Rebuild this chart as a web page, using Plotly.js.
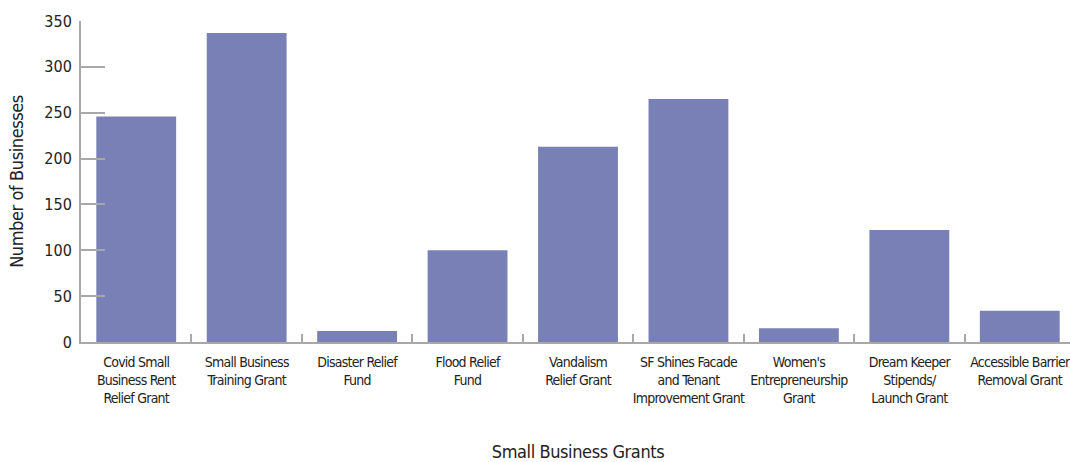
<!DOCTYPE html>
<html>
<head>
<meta charset="utf-8">
<script src="https://cdn.plot.ly/plotly-3.0.1.min.js"></script>
<style>
html,body{margin:0;padding:0;overflow:hidden;background:#fff;}
#chart{width:1080px;height:462px;}
#chart text{font-stretch:condensed !important;}
#chart .xtick text{letter-spacing:-0.75px;}
#chart .g-xtitle text, #chart .g-ytitle text{letter-spacing:-0.4px;}
</style>
</head>
<body>
<div id="chart"></div>
<script>
const categories = [
  "Covid Small<br>Business Rent<br>Relief Grant",
  "Small Business<br>Training Grant",
  "Disaster Relief<br>Fund",
  "Flood Relief<br>Fund",
  "Vandalism<br>Relief Grant",
  "SF Shines Facade<br>and Tenant<br>Improvement Grant",
  "Women's<br>Entrepreneurship<br>Grant",
  "Dream Keeper<br>Stipends/<br>Launch Grant",
  "Accessible Barrier<br>Removal Grant"
];
const businesses = [246, 337, 12, 100, 213, 265, 15, 122, 34];
const yTicks = [0, 50, 100, 150, 200, 250, 300, 350];

const FONT = '"DejaVu Sans Condensed", "DejaVu Sans", sans-serif';

Plotly.newPlot('chart', [{
  type: 'bar',
  x: categories,
  y: businesses,
  marker: {color: '#7980B6'},
  hoverinfo: 'x+y'
}], {
  width: 1080,
  height: 462,
  margin: {l: 81, r: 5, t: 21, b: 120},
  paper_bgcolor: '#ffffff',
  plot_bgcolor: '#ffffff',
  bargap: 0.277,
  showlegend: false,
  font: {family: FONT, color: '#222222', size: 14},
  xaxis: {
    type: 'category',
    range: [-0.5, 8.5],
    tickangle: 0,
    showline: true, linecolor: '#a8a8a8', linewidth: 2,
    ticks: 'inside', ticklen: 8, tickwidth: 2, tickcolor: '#a8a8a8',
    tickson: 'boundaries',
    showgrid: false, zeroline: false,
    ticklabelstandoff: 6,
    tickfont: {family: FONT, size: 14, color: '#222222'},
    title: {text: 'Small Business Grants', font: {family: FONT, size: 18, color: '#222222'}, standoff: 42}
  },
  yaxis: {
    range: [0, 350],
    tickvals: yTicks,
    ticktext: yTicks.map(String),
    showline: true, linecolor: '#a8a8a8', linewidth: 2,
    ticks: 'inside', ticklen: 24, tickwidth: 2, tickcolor: '#a8a8a8',
    showgrid: false, zeroline: false,
    ticklabelstandoff: 4,
    tickfont: {family: FONT, size: 16, color: '#222222'},
    title: {text: 'Number of Businesses', font: {family: FONT, size: 18, color: '#222222'}, standoff: 16}
  }
}, {displayModeBar: false});
</script>
</body>
</html>
